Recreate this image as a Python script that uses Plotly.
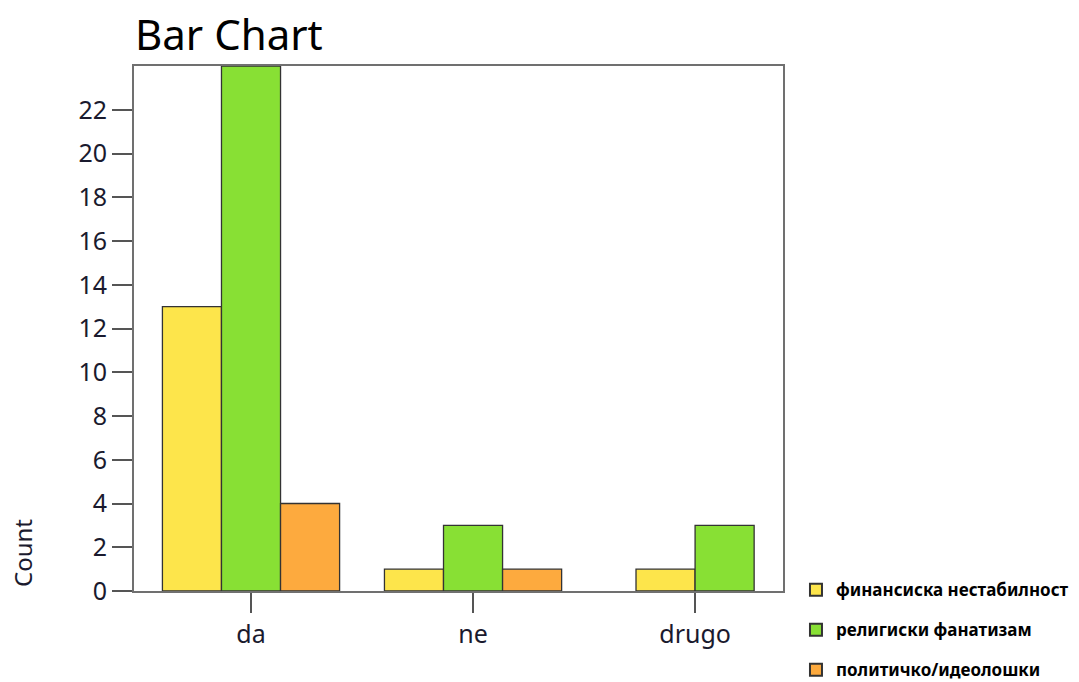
import plotly.graph_objects as go

categories = ["da", "ne", "drugo"]
series_names = ["финансиска нестабилност", "религиски фанатизам", "политичко/идеолошки"]
fin = [13, 1, 1]
rel = [24, 3, 3]
pol = [4, 1, None]
y_ticks = list(range(0, 23, 2))

colors = ["#FDE54B", "#88E034", "#FDAA3E"]
w = 0.266
# offsets: drugo group has only two bars, centred on its tick
offsets = [
    [-1.5 * w, -1.5 * w, -1.0 * w],
    [-0.5 * w, -0.5 * w, 0.0],
    [0.5 * w, 0.5 * w, 0.5 * w],
]

fig = go.Figure()
for i, (name, vals) in enumerate(zip(series_names, [fin, rel, pol])):
    fig.add_trace(go.Bar(
        x=categories, y=vals, name=name,
        width=w, offset=offsets[i],
        marker=dict(color=colors[i], line=dict(color="#333333", width=1.3)),
        legendgroup=f"g{i}",
    ))

FONT = "Noto Sans"
W, H = 1079, 682
fig.update_layout(
    width=W, height=H,
    margin=dict(l=134, r=296, t=66, b=91, autoexpand=False),
    paper_bgcolor="white", plot_bgcolor="white",
    barmode="overlay",
    title=dict(text="Bar Chart", x=135 / W, xanchor="left", y=1 - 35 / H, yanchor="middle",
               font=dict(family=FONT, size=42, color="black")),
    font=dict(family=FONT, color="#1a1a2e"),
    showlegend=True,
    legend=dict(x=1.02, xanchor="left", y=0.036, yanchor="top",
                font=dict(family=FONT, size=17, color="black", weight="bold"),
                traceorder="grouped", tracegroupgap=15,
                bgcolor="rgba(0,0,0,0)", itemsizing="constant"),
)
fig.update_xaxes(
    type="category", range=[-0.527, 2.396], automargin=False,
    showline=True, linecolor="#707070", linewidth=2, mirror=True,
    ticks="outside", ticklen=20, tickwidth=2, tickcolor="#555555",
    tickfont=dict(family=FONT, size=25, color="#1a1a2e"),
    showgrid=False, zeroline=False,
)
fig.update_yaxes(
    range=[0, 24], tickvals=y_ticks, automargin=False,
    showline=True, linecolor="#707070", linewidth=2, mirror=True,
    ticks="outside", ticklen=20, tickwidth=2, tickcolor="#555555",
    tickfont=dict(family=FONT, size=25, color="#1a1a2e"),
    showgrid=False, zeroline=False,
)
fig.add_annotation(text="Count", xref="paper", yref="paper",
                   x=(22 - 134) / 649, y=(591 - 553) / 525, textangle=-90,
                   xanchor="center", yanchor="middle",
                   showarrow=False, font=dict(family=FONT, size=24, color="#1a1a2e"))

fig.write_html("out.html", config={"displayModeBar": False},
               post_script="document.body.style.margin='0';")
